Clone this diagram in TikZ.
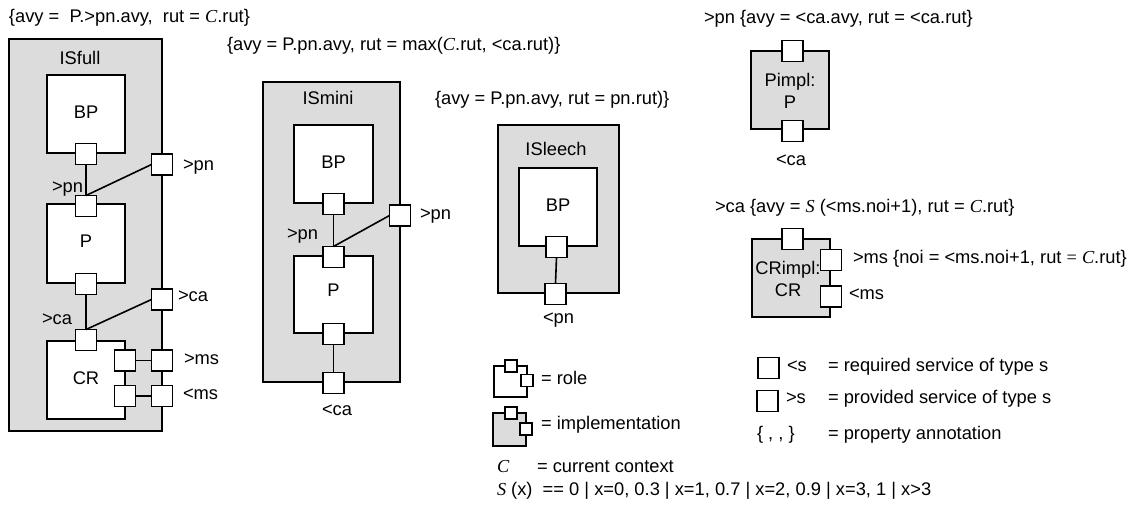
\documentclass[tikz,border=0pt]{standalone}
\usepackage{fontspec}
\setmainfont{Liberation Sans}
\newfontfamily\tms{Liberation Serif}
\newcommand\Cvar{{\tms\itshape C}}
\newcommand\Svar{{\tms\itshape S}}
\definecolor{fillgray}{HTML}{DCDCDC}
\begin{document}
\begin{tikzpicture}[x=1pt,y=-1pt, line width=1.6pt,
  every node/.style={font=\fontsize{18.3}{22}\selectfont, inner sep=0pt, outer sep=0pt},
  outerbox/.style={draw, fill=fillgray},
  innerbox/.style={draw, fill=white},
  port/.style={draw, fill=white, minimum size=21pt},
  miniport/.style={draw, fill=white, minimum size=12pt, line width=1.3pt},
  lbl/.style={anchor=mid west},
  ctr/.style={anchor=mid}]
\useasboundingbox (0,0) rectangle (1134,511);

% ---------- ISfull ----------
\node[lbl] (t1) at (9,20) {\{avy = \ P.>pn.avy, \ rut = \Cvar.rut\}};
\node[outerbox, minimum width=153pt, minimum height=392pt] (isfull) at (85.5,235) {};
\node[ctr] (isfulll) at (80,62) {ISfull};
\node[innerbox, minimum width=78pt, minimum height=78pt] (bp1) at (86,114) {};
\node[ctr] (bp1t) at (86,116) {BP};
\node[innerbox, minimum width=78pt, minimum height=79pt] (p1) at (86,243.5) {};
\node[ctr] (p1l) at (86,245) {P};
\node[innerbox, minimum width=78pt, minimum height=78pt] (cr1) at (86,380) {};
\node[ctr] (cr1l) at (86,382) {CR};
\node[port] (bp1b) at (86,154) {};
\node[port] (p1t) at (86,206) {};
\node[port] (p1b) at (86,284) {};
\node[port] (cr1t) at (86,340) {};
\node[port] (cr1r1) at (125,360.5) {};
\node[port] (cr1r2) at (125,396) {};
\node[port] (pn1) at (162,164.5) {};
\node[port] (ca1) at (162,299.5) {};
\node[port] (ms1) at (162,360.5) {};
\node[port] (ms2) at (162,396) {};
\draw (bp1b.south) -- (p1t.north);
\draw (p1t.north) -- (pn1.west);
\draw (p1b.south) -- (cr1t.north);
\draw (cr1t.north) -- (ca1.west);
\draw (cr1r1.east) -- (ms1.west);
\draw (cr1r2.east) -- (ms2.west);
\node[lbl] (pn1l) at (183,168) {>pn};
\node[lbl] (pn1i) at (52,190) {>pn};
\node[lbl] (ca1l) at (178,299) {>ca};
\node[lbl] (ca1i) at (42,322) {>ca};
\node[lbl] (ms1l) at (184,362) {>ms};
\node[lbl] (ms2l) at (183,397) {<ms};

% ---------- ISmini ----------
\node[lbl] (t2) at (227,48) {\{avy = P.pn.avy, rut = max(\Cvar.rut, <ca.rut)\}};
\node[outerbox, minimum width=137pt, minimum height=300pt] (ismini) at (331.5,232) {};
\node[ctr] (isminil) at (328,102) {ISmini};
\node[innerbox, minimum width=79pt, minimum height=78pt] (bp2) at (333.5,164) {};
\node[ctr] (bp2l) at (333.5,166) {BP};
\node[innerbox, minimum width=79pt, minimum height=77pt] (p2) at (333.5,294.5) {};
\node[ctr] (p2l) at (333.5,294) {P};
\node[port] (bp2b) at (333.5,204) {};
\node[port] (p2t) at (333.5,257) {};
\node[port] (p2b) at (333.5,334) {};
\node[port] (pn2) at (400,215.5) {};
\node[port] (ca2) at (333.5,383) {};
\draw (bp2b.south) -- (p2t.north);
\draw (p2t.north) -- (pn2.west);
\draw (p2b.south) -- (ca2.north);
\node[lbl] (pn2l) at (420,217) {>pn};
\node[lbl] (pn2i) at (287,237) {>pn};
\node[lbl] (ca2l) at (322,413) {<ca};

% ---------- ISleech ----------
\node[lbl] (t3) at (435,102) {\{avy = P.pn.avy, rut = pn.rut)\}};
\node[outerbox, minimum width=121pt, minimum height=168pt] (isleech) at (558.5,209) {};
\node[ctr] (isleechl) at (556,153) {ISleech};
\node[innerbox, minimum width=78pt, minimum height=78pt] (bp3) at (558,207) {};
\node[ctr] (bp3l) at (558,209) {BP};
\node[port] (bp3b) at (556.5,247) {};
\node[port] (pn3) at (555.5,294) {};
\draw (bp3b.south) -- (pn3.north);
\node[lbl] (pn3l) at (543,321) {<pn};

% ---------- Pimpl ----------
\node[lbl] (t4) at (704,21) {>pn \{avy = <ca.avy, rut = <ca.rut\}};
\node[outerbox, minimum width=78pt, minimum height=78pt] (pimpl) at (790,90) {};
\node[align=center] (pimpll) at (790,91) {Pimpl:\\P};
\node[port] (pimt) at (792.5,51) {};
\node[port] (pimb) at (792.5,131) {};
\node[lbl] (pimcal) at (776,163) {<ca};

% ---------- CRimpl ----------
\node[lbl] (t5) at (715,210) {>ca \{avy = \Svar\ (<ms.noi+1), rut = \Cvar.rut\}};
\node[outerbox, minimum width=78pt, minimum height=78pt] (crimpl) at (791,278) {};
\node[align=center] (crimpll) at (788,279) {CRimpl:\\CR};
\node[port] (crt) at (792.5,239) {};
\node[port] (crr1) at (831,260) {};
\node[port] (crr2) at (831,296.5) {};
\node[lbl] (crms1) at (853,261) {>ms \{noi = <ms.noi+1, rut {\tms =} \Cvar.rut\}};
\node[lbl] (crms2) at (849,297) {<ms};

% ---------- legend ----------
\node[innerbox, minimum width=33pt, minimum height=31pt, line width=1.3pt] (roleic) at (510.5,381.5) {};
\node[miniport] (rolet) at (511,366) {};
\node[miniport] (roler) at (527,380.5) {};
\node[lbl] (rolel) at (541,382) {= role};
\node[outerbox, minimum width=33pt, minimum height=33pt, line width=1.3pt] (implic) at (509.5,429.5) {};
\node[miniport] (implt) at (511,413) {};
\node[miniport] (implr) at (526,429) {};
\node[lbl] (impll) at (541,427) {= implementation};
\node[lbl] (cl) at (497,470) {\Cvar};
\node[lbl] (cdef) at (537,470) {= current context};
\node[lbl] (sl) at (497,493) {\Svar\ (x) \ == 0 | x=0, 0.3 | x=1, 0.7 | x=2, 0.9 | x=3, 1 | x>3};

\node[port] (reqsq) at (768.5,368) {};
\node[lbl] (reqs) at (787,369) {<s};
\node[lbl] (reqd) at (828,369) {= required service of type s};
\node[port] (provsq) at (767.5,401) {};
\node[lbl] (provs) at (786,401) {>s};
\node[lbl] (provd) at (828,401) {= provided service of type s};
\node[lbl] (anns) at (757,437) {\{ , , \}};
\node[lbl] (annd) at (828,437) {= property annotation};
\end{tikzpicture}
\end{document}
